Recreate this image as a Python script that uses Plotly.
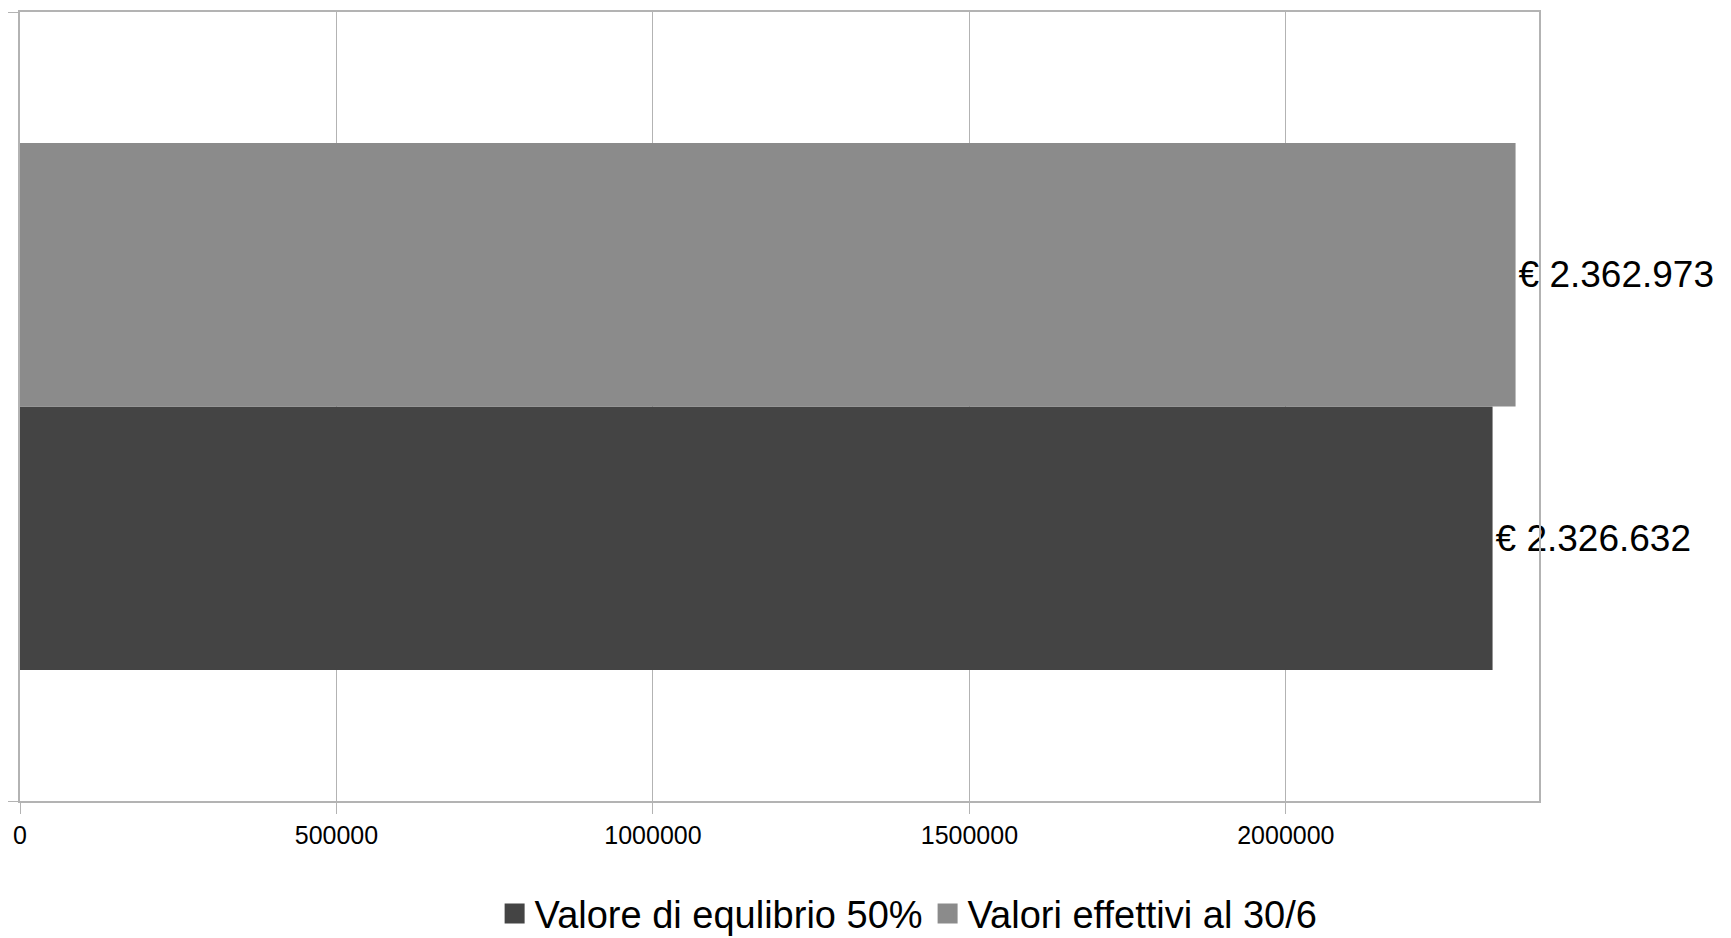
import plotly.graph_objects as go

categories = [0]
series_names = ["Valore di equlibrio 50%", "Valori effettivi al 30/6"]
series_colors = ["#444444", "#8b8b8b"]
equilibrio = [2326632]
effettivi = [2362973]
tick_vals = [0, 500000, 1000000, 1500000, 2000000]
tick_text = ["0", "500000", "1000000", "1500000", "2000000"]

def euro(v):
    return "€ " + f"{v:,}".replace(",", ".")

FONT = "Liberation Sans, Arial, sans-serif"
GRID = "#b3b3b3"

fig = go.Figure()
for name, color, vals in zip(series_names, series_colors, [equilibrio, effettivi]):
    fig.add_trace(go.Bar(
        y=categories, x=vals, orientation="h", name=name,
        marker=dict(color=color, line=dict(width=0)),
        text=[euro(v) for v in vals], textposition="outside",
        textfont=dict(size=37, color="#000000", family=FONT),
        cliponaxis=False, constraintext="none", showlegend=False,
    ))
# legend entries with larger square swatches
for name, color in zip(series_names, series_colors):
    fig.add_trace(go.Scatter(
        x=[None], y=[None], mode="markers", name=name,
        marker=dict(symbol="square", size=16, color=color,
                    line=dict(width=4, color=color)),
        showlegend=True,
    ))

fig.update_layout(
    width=1723, height=960,
    margin=dict(l=12, r=192, t=4, b=167),
    paper_bgcolor="white", plot_bgcolor="white",
    barmode="group", bargap=0.332, bargroupgap=0,
    font=dict(family=FONT, color="#000000"),
    showlegend=True,
    legend=dict(
        orientation="h", x=0.585, xanchor="center", y=-0.1430, yanchor="middle",
        yref="paper", font=dict(size=38, family=FONT), itemwidth=30,
        itemsizing="trace", traceorder="normal",
    ),
    xaxis=dict(
        range=[0, 2400000], tickvals=tick_vals, ticktext=tick_text,
        showgrid=True, gridcolor=GRID, gridwidth=1,
        showline=True, linecolor=GRID, linewidth=2, mirror=True,
        ticks="outside", ticklen=11, tickcolor=GRID, tickwidth=1,
        tickfont=dict(size=25, family=FONT, color="#000000"),
        zeroline=False, fixedrange=True, automargin=False,
    ),
    yaxis=dict(
        range=[-0.5, 0.5], tickvals=[-0.5, 0.5], showticklabels=False,
        showgrid=False, zeroline=False,
        showline=True, linecolor=GRID, linewidth=2, mirror=True,
        ticks="outside", ticklen=12, tickcolor=GRID, tickwidth=1,
        fixedrange=True, automargin=False,
    ),
)

fig.write_html("out.html")
